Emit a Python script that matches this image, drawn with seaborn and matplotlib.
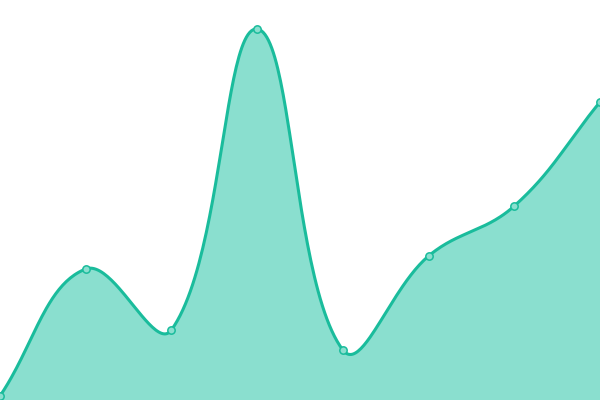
import numpy as np
import pandas as pd
import matplotlib
matplotlib.use("Agg")
import matplotlib.pyplot as plt
import seaborn as sns

sns.set_style("white")

# data (y axis 0..100)
x_pos = [0, 1, 2, 3, 4, 5, 6, 7]
values = [1, 32.75, 17.5, 92.75, 12.5, 36, 48.5, 74.5]

line_color = "#1abc9c"
fill_color = "#8adfcf"

W, H = 600, 400
X_MAX, Y_MAX = 7, 100


def spline(xs, ys, tension=0.4, n=50):
    # distance-weighted bezier spline, worked out in pixel space
    sx, sy = W / X_MAX, H / Y_MAX
    p = np.column_stack([np.asarray(xs, float) * sx, np.asarray(ys, float) * sy])
    cps = []
    for i in range(len(p)):
        prev = p[i - 1] if i > 0 else p[i]
        nxt = p[i + 1] if i < len(p) - 1 else p[i]
        d01 = np.hypot(*(p[i] - prev))
        d12 = np.hypot(*(nxt - p[i]))
        tot = d01 + d12
        s01 = d01 / tot if tot else 0
        s12 = d12 / tot if tot else 0
        c_prev = p[i] - tension * s01 * (nxt - prev)
        c_next = p[i] + tension * s12 * (nxt - prev)
        c_prev = np.clip(c_prev, [0, 0], [W, H])
        c_next = np.clip(c_next, [0, 0], [W, H])
        cps.append((c_prev, c_next))
    t = np.linspace(0, 1, n, endpoint=False)[:, None]
    out = []
    for i in range(len(p) - 1):
        a, b = p[i], p[i + 1]
        c1, c2 = cps[i][1], cps[i + 1][0]
        out.append((1 - t) ** 3 * a + 3 * (1 - t) ** 2 * t * c1
                   + 3 * (1 - t) * t ** 2 * c2 + t ** 3 * b)
    out.append(p[-1][None, :])
    out = np.vstack(out)
    return out[:, 0] / sx, out[:, 1] / sy


cx, cy = spline(x_pos, values)
curve = pd.DataFrame({"x": cx, "y": cy})
pts = pd.DataFrame({"x": x_pos, "y": values})

fig = plt.figure(figsize=(6, 4), dpi=100)
ax = fig.add_axes([0, 0, 1, 1])

ax.fill_between(cx, cy, 0, color=fill_color, linewidth=0, zorder=1)
sns.lineplot(data=curve, x="x", y="y", color=line_color, linewidth=2.2,
             ax=ax, zorder=2, sort=False)
sns.scatterplot(data=pts, x="x", y="y", s=28, color=fill_color,
                edgecolor=line_color, linewidth=1.1, ax=ax, zorder=3,
                clip_on=False)

ax.set_xlim(0, X_MAX)
ax.set_ylim(0, Y_MAX)
ax.axis("off")

fig.savefig("out.png", dpi=100)
